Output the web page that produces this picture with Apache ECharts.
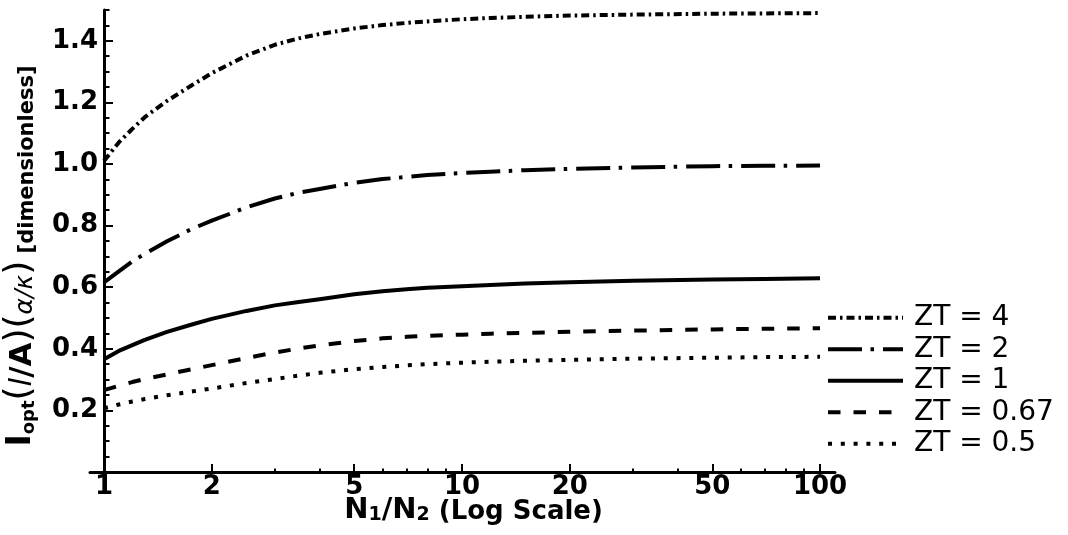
<!DOCTYPE html>
<html>
<head>
<meta charset="utf-8">
<script src="https://cdn.jsdelivr.net/npm/echarts@6/dist/echarts.min.js"></script>
<style>
  html, body { margin: 0; padding: 0; background: #ffffff; }
  #chart { width: 1068px; height: 535px; }
</style>
</head>
<body>
<div id="chart"></div>
<script>
// Winding ratio N1/N2 (log axis) and optimum current for each ZT
const ratio  = [1, 1.1, 1.2, 1.3, 1.5, 1.75, 2, 2.5, 3, 3.5, 4, 5, 6, 7, 8, 10, 12, 15, 20, 30, 50, 70, 100];
const zt4    = [1.01, 1.07, 1.114, 1.152, 1.205, 1.254, 1.295, 1.352, 1.387, 1.408, 1.422, 1.44, 1.451, 1.458, 1.463, 1.47, 1.474, 1.478, 1.482, 1.485, 1.488, 1.489, 1.49];
const zt2    = [0.616, 0.651, 0.684, 0.708, 0.749, 0.788, 0.816, 0.859, 0.888, 0.907, 0.919, 0.939, 0.951, 0.958, 0.964, 0.971, 0.975, 0.98, 0.984, 0.989, 0.993, 0.994, 0.995];
const zt1    = [0.366, 0.393, 0.412, 0.429, 0.455, 0.478, 0.497, 0.523, 0.541, 0.552, 0.561, 0.577, 0.587, 0.593, 0.598, 0.603, 0.607, 0.612, 0.616, 0.621, 0.625, 0.627, 0.629];
const zt067  = [0.266, 0.28, 0.292, 0.302, 0.317, 0.333, 0.347, 0.37, 0.388, 0.401, 0.411, 0.425, 0.434, 0.439, 0.442, 0.446, 0.449, 0.452, 0.455, 0.459, 0.463, 0.465, 0.467];
const zt05   = [0.207, 0.219, 0.229, 0.237, 0.249, 0.261, 0.271, 0.289, 0.302, 0.313, 0.322, 0.334, 0.341, 0.346, 0.35, 0.355, 0.358, 0.361, 0.364, 0.368, 0.371, 0.373, 0.374];

const seriesNames = ['ZT = 4', 'ZT = 2', 'ZT = 1', 'ZT = 0.67', 'ZT = 0.5'];

// Tick values
const xMajorTicks = [1, 2, 5, 10, 20, 50, 100];
const xMinorTicks = [3, 4, 6, 7, 8, 9, 30, 40, 60, 70, 80, 90];
const yLabelTicks = [0.2, 0.4, 0.6, 0.8, 1.0, 1.2, 1.4];
const yMajorTicks = [0, 0.2, 0.4, 0.6, 0.8, 1.0, 1.2, 1.4];
const yMinorTicks = [0.05, 0.1, 0.15, 0.25, 0.3, 0.35, 0.45, 0.5, 0.55, 0.65, 0.7, 0.75,
                     0.85, 0.9, 0.95, 1.05, 1.1, 1.15, 1.25, 1.3, 1.35, 1.45, 1.5];

const FONT = 'DejaVu Sans';

function pairs(ys) { return ratio.map((x, i) => [x, ys[i]]); }

const dashStyles = [
  [8, 4, 2.5, 4],      // dash-dot, fine
  [34, 8.5, 3.5, 9],   // long dash-dot
  null,                // solid
  [12.5, 13],          // dashed
  [4, 8.8]             // dotted
];
const valueSets = [zt4, zt2, zt1, zt067, zt05];

const series = valueSets.map((vals, i) => ({
  name: seriesNames[i],
  type: 'line',
  xAxisIndex: 0,
  yAxisIndex: 0,
  data: pairs(vals),
  smooth: false,
  symbol: 'none',
  silent: true,
  lineStyle: {
    color: '#000',
    width: 4,
    type: dashStyles[i] ? dashStyles[i] : 'solid',
    cap: 'butt',
    join: 'round'
  },
  itemStyle: { color: '#000' }
}));

const xRange = { min: 0.914, max: 110.1 };

const option = {
  animation: false,
  backgroundColor: '#ffffff',
  grid: {
    left: 90, right: 233, top: 10, bottom: 63,
    containLabel: false,
    outerBoundsMode: 'none'
  },
  legend: {
    orient: 'vertical',
    left: 826,
    top: 302,
    padding: 0,
    itemWidth: 75,
    itemHeight: 14,
    itemGap: 0,
    data: seriesNames,
    itemStyle: { opacity: 0 },
    lineStyle: { width: 4 },
    textStyle: {
      fontFamily: FONT,
      fontSize: 28,
      color: '#000',
      lineHeight: 31.5,
      padding: [0, 0, 0, 6]
    }
  },
  xAxis: [
    {
      type: 'log',
      logBase: 10,
      position: 'bottom',
      min: xRange.min,
      max: xRange.max,
      splitLine: { show: false },
      axisLine: { show: true, lineStyle: { color: '#000', width: 3 } },
      axisTick: {
        show: true, inside: true, length: 8,
        customValues: xMajorTicks,
        lineStyle: { color: '#000', width: 2 }
      },
      axisLabel: {
        show: true,
        customValues: xMajorTicks,
        formatter: v => String(Math.round(v)),
        fontFamily: FONT, fontWeight: 'bold', fontSize: 26, color: '#000',
        margin: 2
      },
      name: '{n|N}{s|1}{n|/N}{s|2}{r| (Log Scale)}',
      nameLocation: 'middle',
      nameGap: 19,
      nameMoveOverlap: false,
      nameTextStyle: {
        padding: [0, 0, 0, 22],
        rich: {
          n: { fontFamily: FONT, fontWeight: 'bold', fontSize: 29, color: '#000', verticalAlign: 'bottom', lineHeight: 34 },
          s: { fontFamily: FONT, fontWeight: 'bold', fontSize: 19, color: '#000', verticalAlign: 'bottom', lineHeight: 28 },
          r: { fontFamily: FONT, fontWeight: 'bold', fontSize: 26, color: '#000', verticalAlign: 'bottom', lineHeight: 33 }
        }
      }
    },
    {
      // minor ticks of the log axis
      type: 'log',
      logBase: 10,
      position: 'bottom',
      min: xRange.min,
      max: xRange.max,
      splitLine: { show: false },
      axisLine: { show: false },
      axisTick: {
        show: true, inside: true, length: 3.5,
        customValues: xMinorTicks,
        lineStyle: { color: '#000', width: 2 }
      },
      axisLabel: { show: false }
    }
  ],
  yAxis: [
    {
      type: 'value',
      position: 'left',
      offset: -14,
      min: 0,
      max: 1.5,
      splitLine: { show: false },
      axisLine: { show: true, lineStyle: { color: '#000', width: 3 } },
      axisTick: {
        show: true, inside: true, length: 9,
        customValues: yMajorTicks,
        lineStyle: { color: '#000', width: 2 }
      },
      axisLabel: {
        show: true,
        customValues: yLabelTicks,
        formatter: v => v.toFixed(1),
        fontFamily: FONT, fontWeight: 'bold', fontSize: 26, color: '#000',
        margin: 6
      },
      name: '{I|I}{o|opt}{p|(}{l|l}{b|/A}{p|)}{p|(}{g|α/κ}{p|)}{d| [dimensionless]}',
      nameLocation: 'middle',
      nameRotate: 90,
      nameGap: 66,
      nameMoveOverlap: false,
      nameTextStyle: {
        padding: [0, 30, 0, 0],
        rich: {
          I: { fontFamily: FONT, fontWeight: 'bold', fontSize: 33, color: '#000', verticalAlign: 'bottom', lineHeight: 40 },
          o: { fontFamily: FONT, fontWeight: 'bold', fontSize: 18, color: '#000', verticalAlign: 'bottom', lineHeight: 26 },
          p: { fontFamily: FONT, fontWeight: 'normal', fontSize: 36, color: '#000', verticalAlign: 'bottom', lineHeight: 42 },
          l: { fontFamily: FONT, fontStyle: 'italic', fontWeight: 'normal', fontSize: 31, color: '#000', verticalAlign: 'bottom', lineHeight: 38 },
          b: { fontFamily: FONT, fontWeight: 'bold', fontSize: 31, color: '#000', verticalAlign: 'bottom', lineHeight: 38 },
          g: { fontFamily: FONT, fontStyle: 'italic', fontSize: 25, color: '#000', verticalAlign: 'bottom', lineHeight: 32 },
          d: { fontFamily: FONT, fontWeight: 'bold', fontSize: 21, color: '#000', verticalAlign: 'bottom', lineHeight: 29 }
        }
      }
    },
    {
      // minor ticks every 0.05
      type: 'value',
      position: 'left',
      offset: -14,
      min: 0,
      max: 1.5,
      splitLine: { show: false },
      axisLine: { show: false },
      axisTick: {
        show: true, inside: true, length: 5.5,
        customValues: yMinorTicks,
        lineStyle: { color: '#000', width: 2 }
      },
      axisLabel: { show: false }
    }
  ],
  series: series
};

const chart = echarts.init(document.getElementById('chart'), null, { renderer: 'canvas' });
chart.setOption(option);
</script>
</body>
</html>
